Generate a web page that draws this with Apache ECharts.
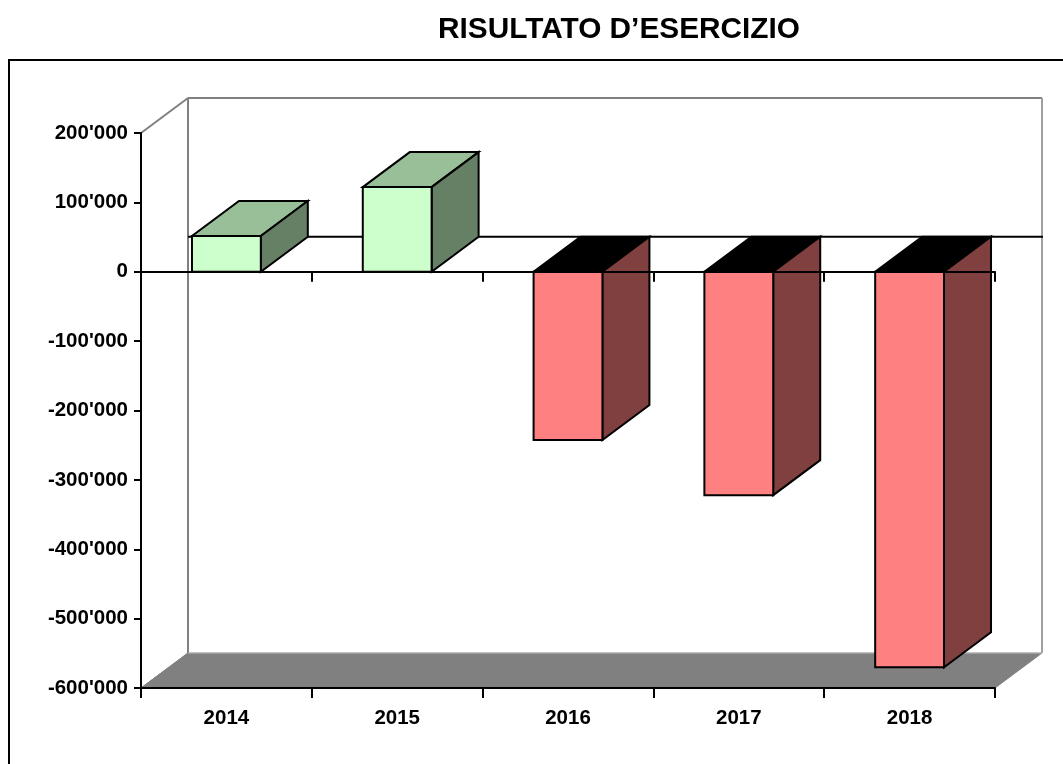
<!DOCTYPE html>
<html>
<head>
<meta charset="utf-8">
<style>html,body{margin:0;padding:0;background:#fff}#c{width:1063px;height:764px}</style>
<script src="https://cdn.jsdelivr.net/npm/echarts@6/dist/echarts.min.js"></script>
</head>
<body>
<div id="c"></div>
<script>
const titleText = 'RISULTATO D’ESERCIZIO';
const years = ['2014', '2015', '2016', '2017', '2018'];
const results = [51500, 122000, -242500, -322000, -570000];
const yMin = -600000, yMax = 200000, yStep = 100000;
const depthX = 47, depthY = -35;
const font = '"Liberation Sans", Arial, sans-serif';

const chart = echarts.init(document.getElementById('c'), null, {renderer: 'canvas'});

function poly(points, fill, stroke, w) {
  return {type: 'polygon', shape: {points}, style: {fill, stroke: stroke || fill, lineWidth: w == null ? 2 : w, lineJoin: 'miter'}};
}
function line(a, b, color, w) {
  return {type: 'line', shape: {x1: a[0], y1: a[1], x2: b[0], y2: b[1]}, style: {stroke: color, lineWidth: w}};
}
function back(p) { return [p[0] + depthX, p[1] + depthY]; }

function renderWalls(params, api) {
  const cs = params.coordSys;
  const left = cs.x, right = cs.x + cs.width;
  const top = api.coord([0, yMax])[1], bottom = api.coord([0, yMin])[1], zero = api.coord([0, 0])[1];
  const fl = [left, bottom], fr = [right, bottom], tl = [left, top], tr = [right, top];
  return {type: 'group', children: [
    poly([fl, fr, back(fr), back(fl)], '#808080', '#808080', 1),
    line(back(fl), back(tl), '#808080', 2),
    line(back(tl), back(tr), '#808080', 2),
    line(back(tr), back(fr), '#a0a0a0', 2),
    line(back(fl), back(fr), '#c0c0c0', 1),
    line(tl, back(tl), '#808080', 2),
    line(fl, back(fl), '#808080', 1),
    line(back([left, zero]), back([right + 1, zero]), '#000', 2)
  ]};
}

function renderBox(params, api) {
  const c = api.coord([api.value(0), api.value(1)]);
  const zeroY = api.coord([api.value(0), 0])[1];
  const w = api.size([1, 0])[0] * 0.403;
  const x0 = c[0] - w / 2, x1 = c[0] + w / 2;
  const yTop = Math.min(c[1], zeroY), yBot = Math.max(c[1], zeroY);
  const pos = api.value(1) >= 0;
  const col = pos ? {front: '#CCFFCC', top: '#99BF99', side: '#668066'}
                  : {front: '#FF8080', top: '#000000', side: '#804040'};
  const a = [x0, yTop], b = [x1, yTop], d = [x1, yBot], e = [x0, yBot];
  return {type: 'group', children: [
    poly([a, b, back(b), back(a)], col.top, '#000', 2),
    poly([b, d, back(d), back(b)], col.side, '#000', 2),
    poly([a, b, d, e], col.front, '#000', 2)
  ]};
}

const xBase = {
  type: 'category', data: years, boundaryGap: true, z: 5,
  axisLine: {show: true, lineStyle: {color: '#000', width: 2}},
  axisTick: {show: true, length: 10, inside: false, alignWithLabel: false, lineStyle: {color: '#000', width: 2}},
  splitLine: {show: false}
};

chart.setOption({
  animation: false,
  backgroundColor: '#fff',
  title: {
    text: titleText, left: 614, top: 10, textAlign: 'center',
    textStyle: {fontFamily: font, fontWeight: 'bold', fontSize: 29.8, color: '#000'}
  },
  grid: {left: 141, right: 68, top: 133, bottom: 76, containLabel: false},
  xAxis: [
    Object.assign({}, xBase, {
      position: 'bottom',
      axisLine: {show: true, onZero: false, lineStyle: {color: '#000', width: 2}},
      axisLabel: {show: true, margin: 20, color: '#000', fontFamily: font, fontWeight: 'bold', fontSize: 20.5}
    }),
    Object.assign({}, xBase, {
      position: 'bottom',
      axisLine: {show: true, onZero: true, onZeroAxisIndex: 0, lineStyle: {color: '#000', width: 2}},
      axisLabel: {show: false}
    })
  ],
  yAxis: {
    type: 'value', min: yMin, max: yMax, interval: yStep, z: 5,
    axisLine: {show: true, onZero: false, lineStyle: {color: '#000', width: 2}},
    axisTick: {show: true, length: 7, lineStyle: {color: '#000', width: 2}},
    splitLine: {show: false},
    axisLabel: {
      margin: 13, color: '#000', fontFamily: font, fontWeight: 'bold', fontSize: 20.5,
      formatter: v => String(v).replace(/\B(?=(\d{3})+$)/g, "'")
    }
  },
  series: [
    {type: 'custom', xAxisIndex: 0, yAxisIndex: 0, z: 1, clip: false, silent: true, renderItem: renderWalls, data: [[0, 0]]},
    {type: 'custom', xAxisIndex: 0, yAxisIndex: 0, z: 2, clip: false, silent: true, renderItem: renderBox,
     data: years.map((y, i) => [i, results[i]])}
  ],
  graphic: [{
    type: 'rect', z: 0, silent: true,
    shape: {x: 9, y: 60, width: 1100, height: 760},
    style: {fill: 'none', stroke: '#000', lineWidth: 2}
  }]
});
</script>
</body>
</html>
